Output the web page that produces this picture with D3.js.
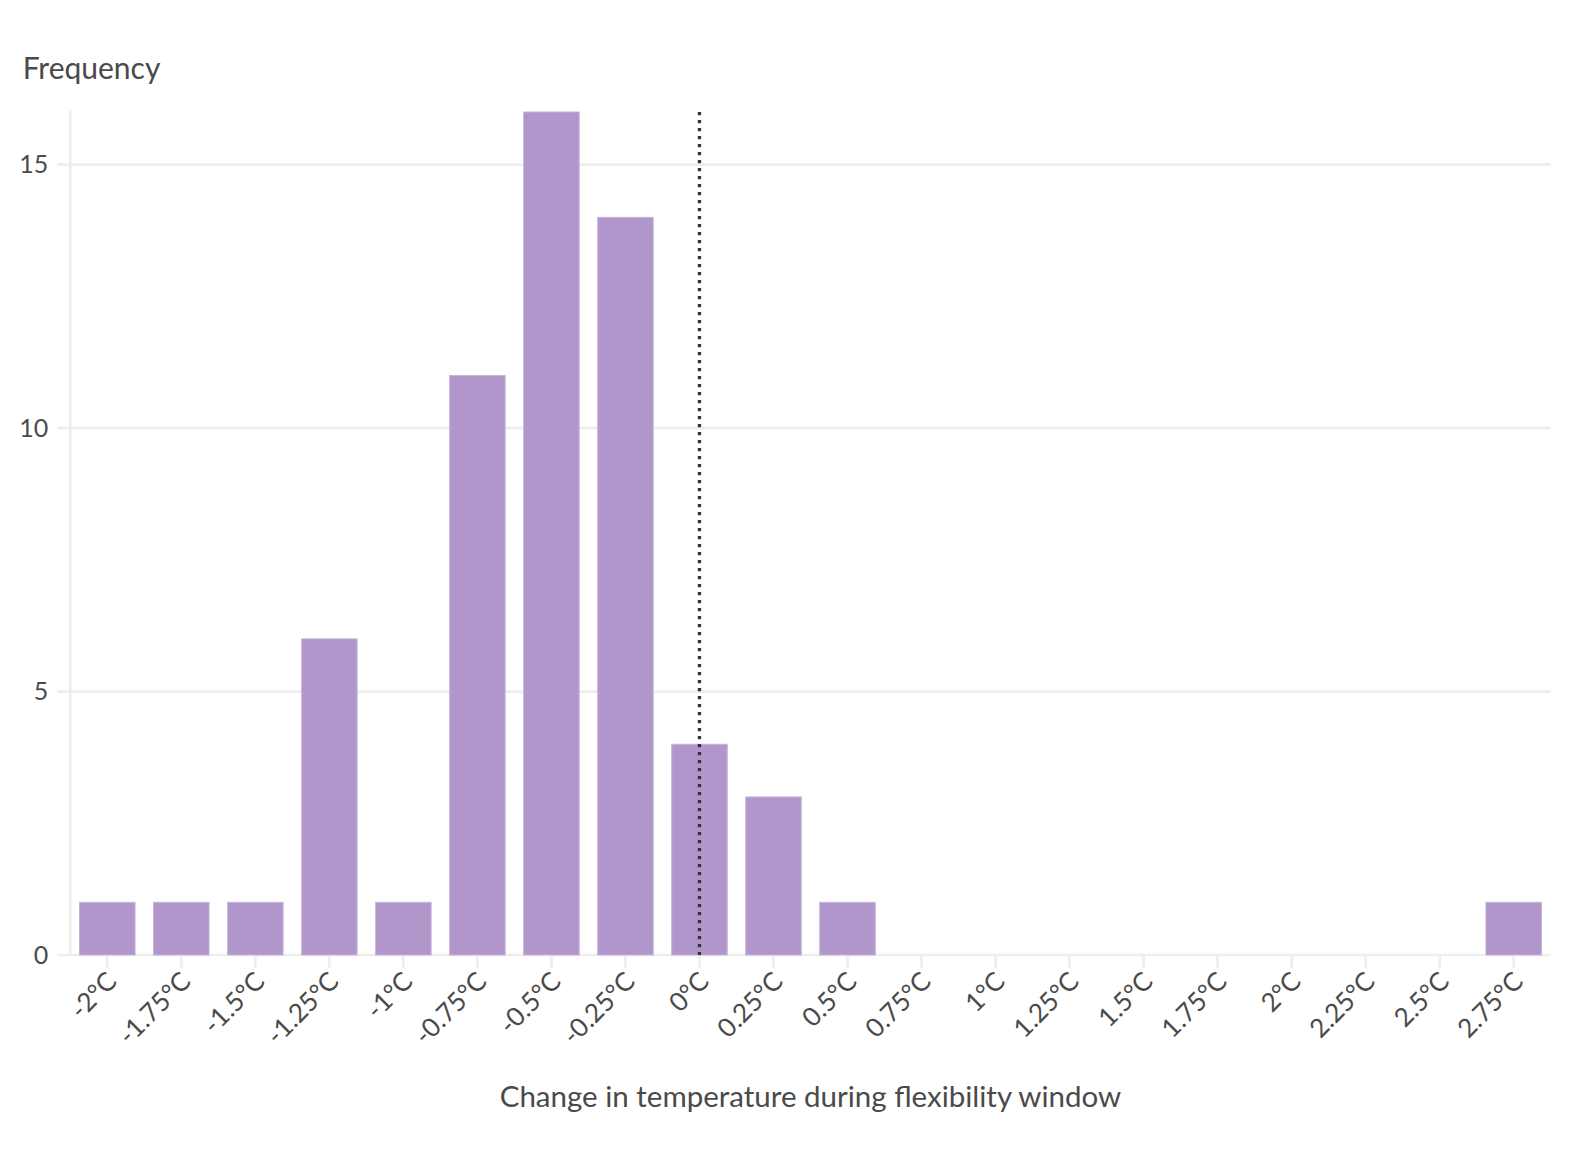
<!DOCTYPE html>
<html>
<head>
<meta charset="utf-8">
<script src="https://cdn.jsdelivr.net/npm/d3@7"></script>
<style>
  body { margin: 0; background: #fff; }
  svg { font-family: "Source Sans Pro", Lato, "Noto Sans", sans-serif; }
  .grid line { stroke: #eeeeee; stroke-width: 2.7; }
  .tick-label { fill: #4a4a4a; }
</style>
</head>
<body>
<svg id="chart" width="1592" height="1150"></svg>
<script>
// bins of temperature change (°C) and how many windows fall in each
const bins = [-2, -1.75, -1.5, -1.25, -1, -0.75, -0.5, -0.25, 0, 0.25, 0.5, 0.75, 1, 1.25, 1.5, 1.75, 2, 2.25, 2.5, 2.75];
const counts = [1, 1, 1, 6, 1, 11, 16, 14, 4, 3, 1, 0, 0, 0, 0, 0, 0, 0, 0, 1];
const yTicks = [0, 5, 10, 15];
const refValue = 0;

const svg = d3.select("#chart");
const margin = { left: 70.3, right: 41.3, top: 112, bottom: 195 };
const W = 1592, H = 1150;
const textColor = "#4a4a4a";

const x = d3.scaleBand()
  .domain(bins)
  .range([margin.left, W - margin.right])
  .paddingInner(0.25)
  .paddingOuter(0.125);

const y = d3.scaleLinear()
  .domain([0, 16])
  .range([H - margin.bottom, margin.top]);

const fmt = d => d + "°C";

// horizontal gridlines (extend a bit left of axis as ticks)
const grid = svg.append("g").attr("class", "grid");
grid.selectAll("line.h")
  .data(yTicks)
  .join("line")
  .attr("x1", margin.left - 13)
  .attr("x2", W - margin.right)
  .attr("y1", d => y(d))
  .attr("y2", d => y(d));

// y axis line
grid.append("line")
  .attr("x1", margin.left).attr("x2", margin.left)
  .attr("y1", margin.top - 1).attr("y2", y(0));

// x ticks
grid.selectAll("line.xt")
  .data(bins)
  .join("line")
  .attr("x1", d => x(d) + x.bandwidth() / 2)
  .attr("x2", d => x(d) + x.bandwidth() / 2)
  .attr("y1", y(0))
  .attr("y2", y(0) + 13);

// y tick labels
svg.append("g").selectAll("text")
  .data(yTicks)
  .join("text")
  .attr("class", "tick-label")
  .attr("x", margin.left - 22)
  .attr("y", d => y(d))
  .attr("dy", "0.35em")
  .attr("text-anchor", "end")
  .attr("font-size", 25)
  .text(d => d);

// bars
svg.append("g").selectAll("rect")
  .data(bins.map((b, i) => ({ b, c: counts[i] })).filter(d => d.c > 0))
  .join("rect")
  .attr("x", d => x(d.b))
  .attr("width", x.bandwidth())
  .attr("y", d => y(d.c))
  .attr("height", d => y(0) - y(d.c))
  .attr("fill", "#b096cb")
  .attr("stroke", "#c6b3db")
  .attr("stroke-width", 1);

// dotted reference line at 0°C
const xRef = x(refValue) + x.bandwidth() / 2;
svg.append("line")
  .attr("x1", xRef).attr("x2", xRef)
  .attr("y1", y(16)).attr("y2", y(0))
  .attr("stroke", "#333")
  .attr("stroke-width", 3.3)
  .attr("stroke-dasharray", "3.3,4.7");

// x tick labels, rotated
svg.append("g").selectAll("text")
  .data(bins)
  .join("text")
  .attr("class", "tick-label")
  .attr("text-anchor", "end")
  .attr("font-size", 26)
  .attr("transform", d => `translate(${x(d) + x.bandwidth() / 2 + 11},${y(0) + 28}) rotate(-45)`)
  .text(fmt);

// axis titles
svg.append("text")
  .attr("x", 22.7)
  .attr("y", 79)
  .attr("fill", textColor)
  .attr("font-size", 30)
  .text("Frequency");

svg.append("text")
  .attr("x", (margin.left + W - margin.right) / 2)
  .attr("y", 1107)
  .attr("text-anchor", "middle")
  .attr("fill", textColor)
  .attr("font-size", 29.5)
  .text("Change in temperature during flexibility window");
</script>
</body>
</html>
